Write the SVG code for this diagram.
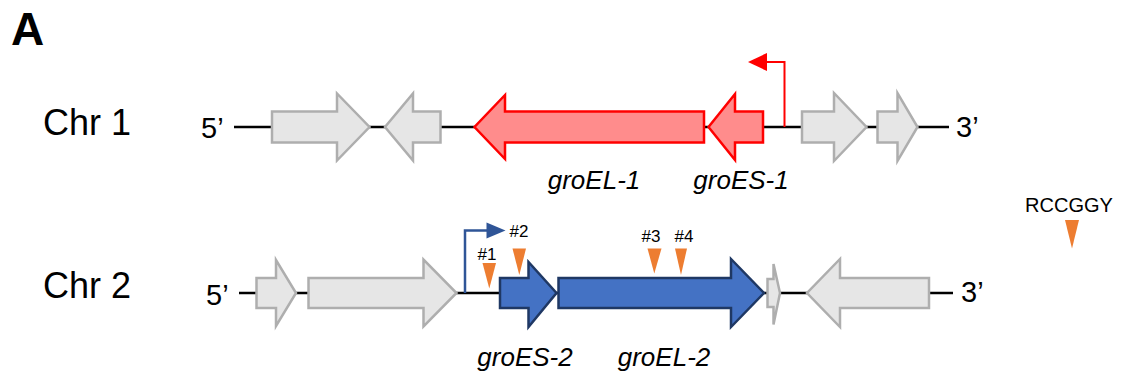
<svg xmlns="http://www.w3.org/2000/svg" width="1122" height="377" viewBox="0 0 1122 377">
  <style>
    text { font-family: "Liberation Sans", Arial, sans-serif; fill: #000; }
    .panel { font-size: 46px; font-weight: bold; }
    .chr { font-size: 36px; }
    .end { font-size: 29px; }
    .gene { font-size: 26px; font-style: italic; text-anchor: middle; }
    .site { font-size: 17px; text-anchor: middle; }
    .dna { stroke: #000; stroke-width: 2.5; fill: none; }
    .other { fill: #E6E6E6; stroke: #AEAEAE; stroke-width: 2.5; stroke-linejoin: miter; }
    .red { fill: #FF8C8C; stroke: #FF0000; stroke-width: 2.5; }
    .blue { fill: #4472C4; stroke: #1F3864; stroke-width: 2.5; }
    .motif { fill: #ED7D31; }
  </style>

  <!-- panel label -->
  <text class="panel" x="11" y="45">A</text>

  <!-- ===== Chromosome 1 ===== -->
  <text class="chr" x="43" y="135">Chr 1</text>
  <g id="chr1-backbone">
    <line class="dna" x1="234" y1="127" x2="949" y2="127"/>
    <text class="end" x="201" y="138">5’</text>
    <text class="end" x="956" y="137">3’</text>
  </g>

  <g id="chr1-orf1">
    <path class="other" d="M272,111.5 H337 V93.5 L369.5,127 L337,160.5 V142.5 H272 Z"/>
  </g>
  <g id="chr1-orf2">
    <path class="other" d="M440.5,111.5 H413 V93.5 L385,127 L413,160.5 V142.5 H440.5 Z"/>
  </g>
  <g id="groEL-1">
    <path class="red" d="M704,111.5 H505 V95 L474.5,127 L505,159 V142.5 H704 Z"/>
    <text class="gene" x="594" y="189">groEL-1</text>
  </g>
  <g id="groES-1">
    <path class="red" d="M763,111.5 H735 V94 L708.5,127 L735,160 V142.5 H763 Z"/>
    <text class="gene" x="741" y="189">groES-1</text>
  </g>
  <g id="chr1-orf3">
    <path class="other" d="M802,111.5 H834 V93 L866.5,127 L834,161 V142.5 H802 Z"/>
  </g>
  <g id="chr1-orf4">
    <path class="other" d="M877.5,111.5 H897.5 V93 L917.5,127 L897.5,161 V142.5 H877.5 Z"/>
  </g>

  <!-- ===== Chromosome 2 ===== -->
  <text class="chr" x="43" y="298">Chr 2</text>
  <g id="chr2-backbone">
    <line class="dna" x1="239" y1="293" x2="953" y2="293"/>
    <text class="end" x="206" y="305">5’</text>
    <text class="end" x="961" y="302">3’</text>
  </g>

  <g id="chr2-orf1">
    <path class="other" d="M256.5,278 H276 V260 L296,293 L276,326 V308 H256.5 Z"/>
  </g>
  <g id="chr2-orf2">
    <path class="other" d="M308.5,278 H423.5 V259.5 L456.5,293 L423.5,326.5 V308 H308.5 Z"/>
  </g>
  <g id="groES-2">
    <path class="blue" d="M500,278 H528.5 V262 L556.5,293 L528.5,327 V308 H500 Z"/>
    <text class="gene" x="525" y="366">groES-2</text>
  </g>
  <g id="groEL-2">
    <path class="blue" d="M558.5,278 H731 V259 L764,293 L731,327 V308 H558.5 Z"/>
    <text class="gene" x="664" y="366">groEL-2</text>
  </g>
  <g id="chr2-orf3">
    <path class="other" d="M767.5,279 H773.5 V264 L780,293 L773.5,324.5 V307 H767.5 Z"/>
  </g>
  <g id="chr2-orf4">
    <path class="other" d="M929,278 H840 V259 L807,293 L840,327 V308 H929 Z"/>
  </g>

  <!-- promoters / transcription start sites -->
  <g id="connectors">
    <g id="promoter-1">
      <path d="M784.5,127 V62 H765" fill="none" stroke="#FF0000" stroke-width="2"/>
      <polygon points="748,62 767,53 767,71" fill="#FF0000"/>
    </g>
    <g id="promoter-2">
      <path d="M465,293 V230.5 H488" fill="none" stroke="#2F5597" stroke-width="2.5"/>
      <polygon points="505.5,230.5 486.5,222.5 486.5,238.5" fill="#2F5597"/>
    </g>
  </g>

  <!-- RCCGGY motif sites -->
  <g id="site-1">
    <text class="site" x="487" y="260">#1</text>
    <polygon class="motif" points="482.5,263 496,263 489.3,288.5"/>
  </g>
  <g id="site-2">
    <text class="site" x="519" y="237">#2</text>
    <polygon class="motif" points="512.5,248.5 526,248.5 519.3,275"/>
  </g>
  <g id="site-3">
    <text class="site" x="651" y="242">#3</text>
    <polygon class="motif" points="647.5,248.5 661.5,248.5 654.3,273.5"/>
  </g>
  <g id="site-4">
    <text class="site" x="684" y="242">#4</text>
    <polygon class="motif" points="675,248.5 687,248.5 681,275"/>
  </g>

  <!-- legend -->
  <g id="legend">
    <text x="1069" y="211.5" font-size="20" text-anchor="middle">RCCGGY</text>
    <polygon class="motif" points="1065,220 1079,220 1072,248.5"/>
  </g>
</svg>
